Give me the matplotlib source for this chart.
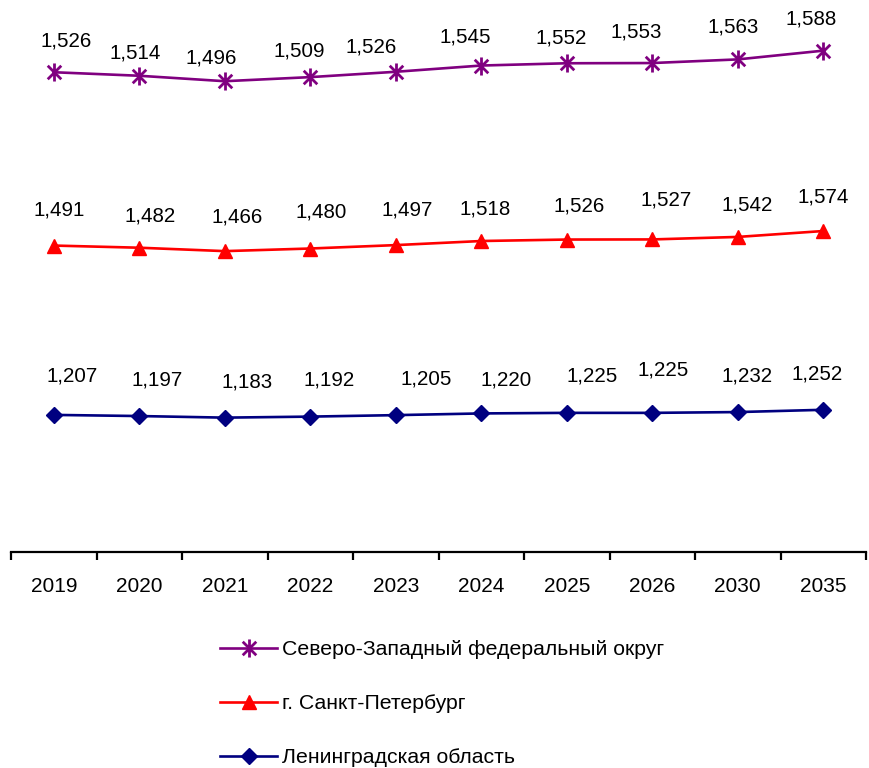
import matplotlib
matplotlib.use("Agg")
import matplotlib.pyplot as plt
from matplotlib.path import Path
import numpy as np

# ---- data ----
years = ["2019", "2020", "2021", "2022", "2023", "2024", "2025", "2026", "2030", "2035"]
lenobl = [1207, 1197, 1183, 1192, 1205, 1220, 1225, 1225, 1232, 1252]
spb = [1491, 1482, 1466, 1480, 1497, 1518, 1526, 1527, 1542, 1574]
szfo = [1526, 1514, 1496, 1509, 1526, 1545, 1552, 1553, 1563, 1588]
labels = ["Северо-Западный федеральный округ", "г. Санкт-Петербург", "Ленинградская область"]

# ---- layout: label offsets (pixels, dx, dy) ----
off_szfo = [(12, 31), (-4, 23), (-14, 23), (-11, 26), (-25, 25), (-16, 29), (-6, 25), (-16, 31), (-5, 32), (-12, 32)]
off_spb = [(5, 36), (11, 32), (12, 34), (11, 37), (11, 35), (4, 32), (12, 34), (14, 39), (9, 32), (0, 34)]
off_len = [(18, 39), (18, 36), (22, 36), (19, 37), (30, 36), (25, 33), (25, 37), (11, 43), (9, 36), (-6, 36)]

plt.rcParams['font.family'] = ['Liberation Sans', 'DejaVu Sans']

W, H = 869, 768
fig = plt.figure(figsize=(W / 100, H / 100), dpi=100)
ax = fig.add_axes([11 / W, (H - 552) / H, 855 / W, 552 / H])

x = np.arange(len(years))
s1 = np.array(lenobl)
s2 = s1 + np.array(spb)
s3 = s2 + np.array(szfo)

star = Path([(0, -1), (0, 1), (-0.75, -0.75), (0.75, 0.75), (-0.75, 0.75), (0.75, -0.75)],
            [Path.MOVETO, Path.LINETO, Path.MOVETO, Path.LINETO, Path.MOVETO, Path.LINETO])

l3, = ax.plot(x, s3, color='#800080', lw=1.9, marker=star, ms=13, mew=2.0, mec='#800080', label=labels[0])
l2, = ax.plot(x, s2, color='#FF0000', lw=1.9, marker='^', ms=10, mfc='#FF0000', mec='#FF0000', label=labels[1])
l1, = ax.plot(x, s1, color='#000080', lw=1.9, marker='D', ms=8, mfc='#000080', mec='#000080', label=labels[2])

for vals, stack, offs in ((szfo, s3, off_szfo), (spb, s2, off_spb), (lenobl, s1, off_len)):
    for i, (v, sy) in enumerate(zip(vals, stack)):
        ax.annotate(f"{v:,}", (x[i], sy), xytext=offs[i], textcoords='offset pixels',
                    ha='center', va='center', fontsize=14.8, color='black', annotation_clip=False)

ax.set_xlim(-0.5, len(years) - 0.5)
ax.set_ylim(0, 4860)
for sp in ('top', 'right', 'left'):
    ax.spines[sp].set_visible(False)
ax.spines['bottom'].set_linewidth(1.6)
ax.set_yticks([])
ax.set_xticks(x)
ax.set_xticklabels(years, fontsize=15)
ax.tick_params(axis='x', which='major', length=0, pad=18)
ax.set_xticks(np.arange(len(years) + 1) - 0.5, minor=True)
ax.tick_params(axis='x', which='minor', length=6, width=1.6, direction='out')

fig.legend(handles=[l3, l2, l1], labels=labels, loc='upper left',
           bbox_to_anchor=(220 / W, 1 - 640 / H), frameon=False, fontsize=15.3,
           handlelength=2.7, handletextpad=0.2, labelspacing=1.65,
           borderpad=0, borderaxespad=0)

fig.savefig("out.png", dpi=100)
